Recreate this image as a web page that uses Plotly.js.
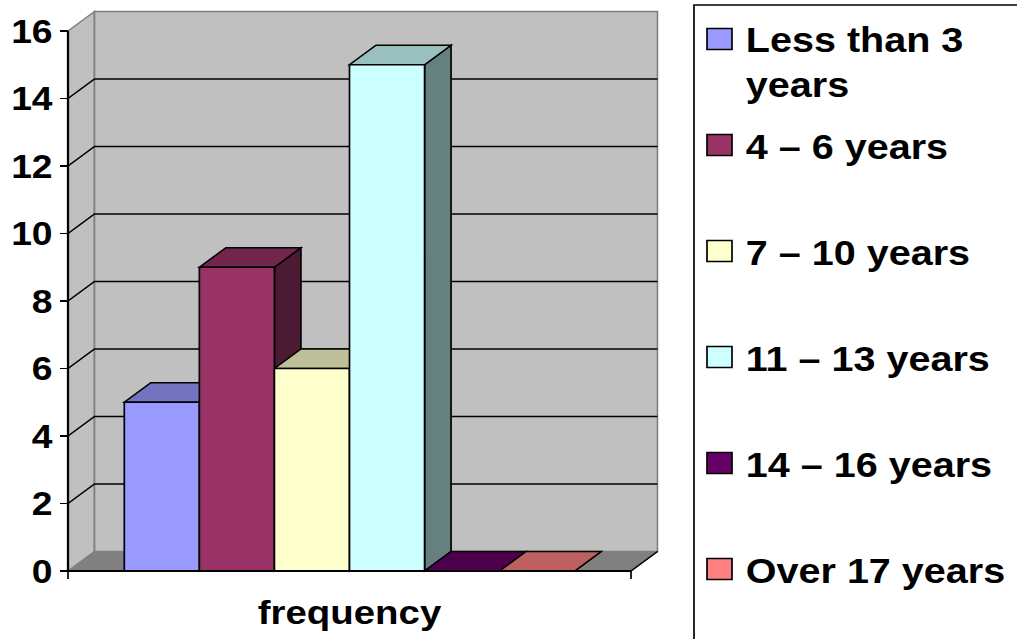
<!DOCTYPE html>
<html>
<head>
<meta charset="utf-8">
<script src="https://cdn.plot.ly/plotly-3.0.1.min.js"></script>
<style>
  html, body { margin: 0; padding: 0; background: #fff; overflow: hidden; }
  /* the chart is laid out 900px wide and widened to the full 1017px page */
  #chart { width: 900px; height: 639px; transform: scaleX(1.13); transform-origin: 0 0; }
</style>
</head>
<body>
<div id="chart"></div>
<script>
// Years of experience groups and number of respondents in each
const groups = ['Less than 3 years', '4 – 6 years', '7 – 10 years', '11 – 13 years', '14 – 16 years', 'Over 17 years'];
const counts = [5, 9, 6, 15, 0, 0];
const category = ['frequency'];
const yTicks = [0, 2, 4, 6, 8, 10, 12, 14, 16];
const faceColors = ['#9999FF', '#993366', '#FFFFCC', '#CCFFFF', '#660066', '#FF8080'];

// ---- page geometry ----
const STRETCH = 1.13;
const W = 900, H = 639;
const M = { l: 58, r: 317, t: 9, b: 59 };
const PW = W - M.l - M.r, PH = H - M.t - M.b;
// front plane of the box: x 0..1 spans page px 68..631, value 0 sits at page px 571
const FX0 = 68 / STRETCH, FX1 = 631 / STRETCH;
const FY0 = 571, PX_PER_UNIT = 33.75;
const XU = FX1 - FX0;
const xRange = [(M.l - FX0) / XU, (W - M.r - FX0) / XU];
const yRange = [(FY0 - (H - M.b)) / PX_PER_UNIT, (FY0 - M.t) / PX_PER_UNIT];
// depth of the box, as an offset to the right and up
const DX = 26.5 / 563, DY = 19.5 / PX_PER_UNIT;
const YMAX = yTicks[yTicks.length - 1];
const TICK_DOWN = 8 / PX_PER_UNIT;

const FONT = 'Liberation Sans, Arial, Helvetica, sans-serif';

// page px -> paper fractions (for the legend box)
const paperX = X => (X / STRETCH - M.l) / PW;
const paperY = Y => (H - M.b - Y) / PH;

function shade(hex, f) {
  const n = parseInt(hex.slice(1), 16);
  const r = Math.round(((n >> 16) & 255) * f);
  const g = Math.round(((n >> 8) & 255) * f);
  const b = Math.round((n & 255) * f);
  return `rgb(${r},${g},${b})`;
}
function poly(pts, close) {
  return 'M' + pts.map(p => p[0] + ',' + p[1]).join(' L') + (close ? ' Z' : '');
}
function wrapLabel(s, maxChars) {
  if (s.length <= maxChars) return s;
  const cut = s.lastIndexOf(' ', maxChars);
  return s.slice(0, cut) + '<br>' + s.slice(cut + 1);
}

const shapes = [];
const dataShape = (path, fill, color, width, layer) => shapes.push({
  type: 'path', xref: 'x', yref: 'y', path: path,
  fillcolor: fill || 'rgba(0,0,0,0)', line: { color: color, width: width }, layer: layer || 'below'
});

// walls and floor
dataShape(poly([[0, 0], [DX, DY], [DX, YMAX + DY], [0, YMAX]], true), '#C0C0C0', '#808080', 1.5);
dataShape(poly([[DX, DY], [1 + DX, DY], [1 + DX, YMAX + DY], [DX, YMAX + DY]], true), '#C0C0C0', '#808080', 1.5);
dataShape(poly([[0, 0], [1, 0], [1 + DX, DY], [DX, DY]], true), '#808080', '#808080', 1);
dataShape(poly([[1, 0], [1 + DX, DY]], false), null, '#000', 1.5);

// gridlines across the side wall and back wall
yTicks.slice(1, -1).forEach(v => {
  dataShape(poly([[0, v], [DX, v + DY], [1 + DX, v + DY]], false), null, '#000', 1.5);
});

// side and top faces of each bar (front faces are the bar trace itself)
const groupWidth = 0.8, barW = groupWidth / groups.length;
counts.forEach((v, i) => {
  const l = 0.5 - groupWidth / 2 + i * barW, r = l + barW;
  dataShape(poly([[r, 0], [r + DX, DY], [r + DX, v + DY], [r, v]], true), shade(faceColors[i], 0.5), '#000', 1.5);
  dataShape(poly([[l, v], [r, v], [r + DX, v + DY], [l + DX, v + DY]], true), shade(faceColors[i], 0.75), '#000', 1.5);
});

// front axis line, front floor edge and the two category-axis tick marks
dataShape(poly([[0, 0], [0, YMAX]], false), null, '#000', 2, 'above');
dataShape(poly([[0, 0], [1, 0]], false), null, '#000', 2, 'above');
dataShape(poly([[0, 0], [0, -TICK_DOWN]], false), null, '#000', 1.5, 'above');
dataShape(poly([[1, 0], [1, -TICK_DOWN]], false), null, '#000', 1.5, 'above');

// legend box, swatches and labels
const annotations = [];
shapes.push({
  type: 'rect', xref: 'paper', yref: 'paper',
  x0: paperX(694), x1: paperX(1060), y0: paperY(5), y1: paperY(680),
  fillcolor: '#fff', line: { color: '#000', width: 1.5 }, layer: 'above'
});
const LEG_FS = 35, LINE_GAP = 1.3 * LEG_FS;
groups.forEach((g, i) => {
  const cy = 39 + 106 * i;
  shapes.push({
    type: 'rect', xref: 'paper', yref: 'paper',
    x0: paperX(707), x1: paperX(732), y0: paperY(cy + 10.5), y1: paperY(cy - 10.5),
    fillcolor: faceColors[i], line: { color: '#000', width: 1.5 }, layer: 'above'
  });
  const txt = wrapLabel(g, 13);
  const nLines = txt.split('<br>').length;
  annotations.push({
    xref: 'paper', yref: 'paper', x: paperX(743), y: paperY(cy + 1 + (nLines - 1) * LINE_GAP / 2),
    xanchor: 'left', yanchor: 'middle', align: 'left', showarrow: false,
    text: txt, font: { family: FONT, size: LEG_FS, weight: 'bold', color: '#000' }
  });
});

const traces = groups.map((g, i) => ({
  type: 'bar', name: g, x: [0.5], y: [counts[i]],
  marker: { color: faceColors[i], line: { color: '#000', width: 1.5 } },
  showlegend: false, hoverinfo: 'skip'
}));

const layout = {
  width: W, height: H,
  margin: M,
  paper_bgcolor: '#fff', plot_bgcolor: '#fff',
  barmode: 'group', bargap: 0.2, bargroupgap: 0,
  showlegend: false,
  font: { family: FONT, color: '#000' },
  xaxis: {
    range: xRange, tickvals: [0.5], ticktext: category, ticks: '',
    showgrid: false, zeroline: false, showline: false, fixedrange: true,
    tickfont: { family: FONT, size: 34, weight: 'bold', color: '#000' },
    ticklabelstandoff: 9
  },
  yaxis: {
    range: yRange, tickvals: yTicks, ticks: 'outside', ticklen: 7, tickwidth: 1.5, tickcolor: '#000',
    showgrid: false, zeroline: false, showline: false, fixedrange: true,
    anchor: 'free', position: (FX0 - M.l) / PW,
    tickfont: { family: FONT, size: 33, weight: 'bold', color: '#000' },
    ticklabelstandoff: 0
  },
  shapes: shapes,
  annotations: annotations
};

Plotly.newPlot('chart', traces, layout, { displayModeBar: false, staticPlot: true });
</script>
</body>
</html>
